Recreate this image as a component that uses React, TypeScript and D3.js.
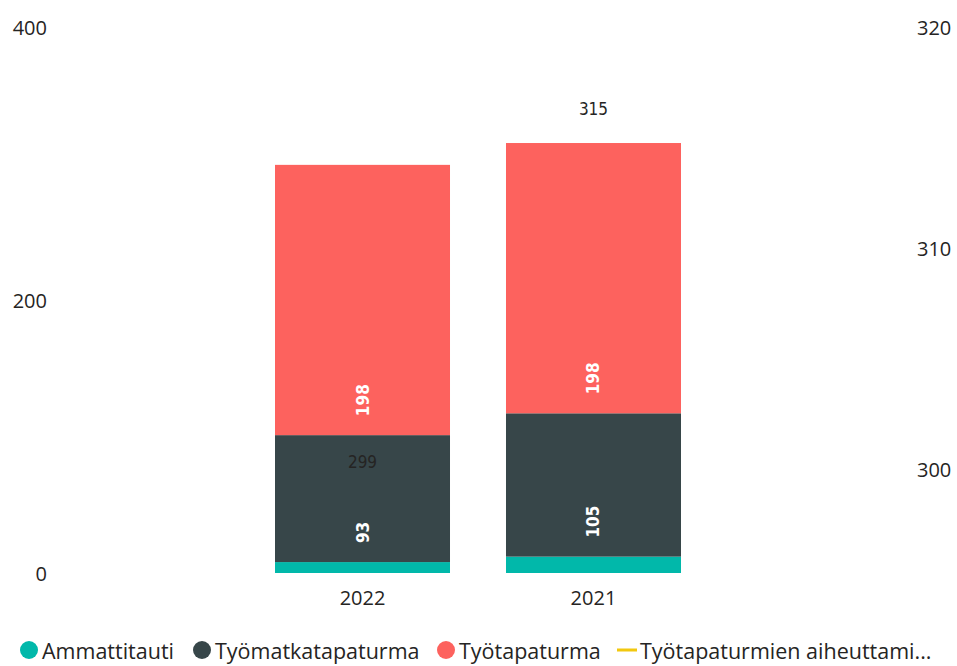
import React from "react";
import * as d3 from "d3";

const categories = ["2022", "2021"];
const ammattitauti = [8, 12];
const tyomatka = [93, 105];
const tyotapaturma = [198, 198];
const lineValues = [299, 315];
const leftTicks = [0, 200, 400];
const rightTicks = [300, 310, 320];
const seriesNames = ["Ammattitauti", "Työmatkatapaturma", "Työtapaturma", "Työtapaturmien aiheuttami..."];
const colors = ["#01B8AA", "#374649", "#FD625E", "#F2C80F"];

const W = 957, H = 666;
const top = 27, bottom = 573;

export default function App() {
  const x = d3.scaleBand<string>().domain(categories).range([275, 681]).paddingInner(0.2424).paddingOuter(0);
  const yL = d3.scaleLinear().domain([0, 400]).range([bottom, top]);
  const yR = d3.scaleLinear().domain([295.3, 320]).range([bottom, top]);

  const rows = categories.map((c, i) => ({ cat: c, a: ammattitauti[i], b: tyomatka[i], c2: tyotapaturma[i] }));
  const stack = d3.stack<any>().keys(["a", "b", "c2"])(rows);

  const tickFont = "'Segoe UI', 'Open Sans', sans-serif";
  const labelFont = "'DejaVu Sans Condensed', 'Roboto Condensed', Roboto, sans-serif";
  const line = d3.line<number>().x((_, i) => x(categories[i])! + x.bandwidth() / 2).y((v) => yR(v));

  const legendX = [29, 202, 446, 617];

  return (
    <svg width={W} height={H} style={{ position: "absolute", left: 0, top: 0, background: "#fff" }}>
      {leftTicks.map((t) => (
        <text key={"l" + t} x={47} y={yL(t)} textAnchor="end" dominantBaseline="central" fontFamily={tickFont} fontSize={20} fill="#252423">{t}</text>
      ))}
      {rightTicks.map((t) => (
        <text key={"r" + t} x={917} y={yR(t)} textAnchor="start" dominantBaseline="central" fontFamily={tickFont} fontSize={20} fill="#252423">{t}</text>
      ))}
      {stack.map((s, si) => (
        <g key={si} fill={colors[si]}>
          {s.map((d, i) => (
            <rect key={i} x={x(categories[i])} y={yL(d[1])} width={x.bandwidth()} height={yL(d[0]) - yL(d[1])} />
          ))}
        </g>
      ))}
      {stack.slice(1).map((s, si) => (
        <g key={"lbl" + si}>
          {s.map((d, i) => {
            const cx = x(categories[i])! + x.bandwidth() / 2;
            const by = yL(d[0]) - 19;
            return (
              <text key={i} transform={`translate(${cx},${by}) rotate(-90)`} textAnchor="start" dominantBaseline="central" fontFamily={labelFont} fontWeight="bold" fontSize={17} fill="#fff">{d[1] - d[0]}</text>
            );
          })}
        </g>
      ))}
      <path d={line(lineValues) || ""} fill="none" stroke="none" />
      {lineValues.map((v, i) => (
        <text key={"lv" + i} x={x(categories[i])! + x.bandwidth() / 2} y={yR(v) - 29} textAnchor="middle" dominantBaseline="central" fontFamily={labelFont} fontSize={17} fill="#252423">{v}</text>
      ))}
      {categories.map((c) => (
        <text key={c} x={x(c)! + x.bandwidth() / 2} y={597} textAnchor="middle" dominantBaseline="central" fontFamily={tickFont} fontSize={20} fill="#252423">{c}</text>
      ))}
      {seriesNames.map((n, i) => (
        <g key={n} transform={`translate(${legendX[i]},650)`}>
          {i < 3 ? <circle cx={0} cy={0} r={9} fill={colors[i]} /> : <rect x={0} y={-1.5} width={20} height={3} fill={colors[i]} />}
          <text x={i < 3 ? 13 : 23} y={0} dominantBaseline="central" fontFamily={tickFont} fontSize={21.5} fill="#252423">{n}</text>
        </g>
      ))}
    </svg>
  );
}
